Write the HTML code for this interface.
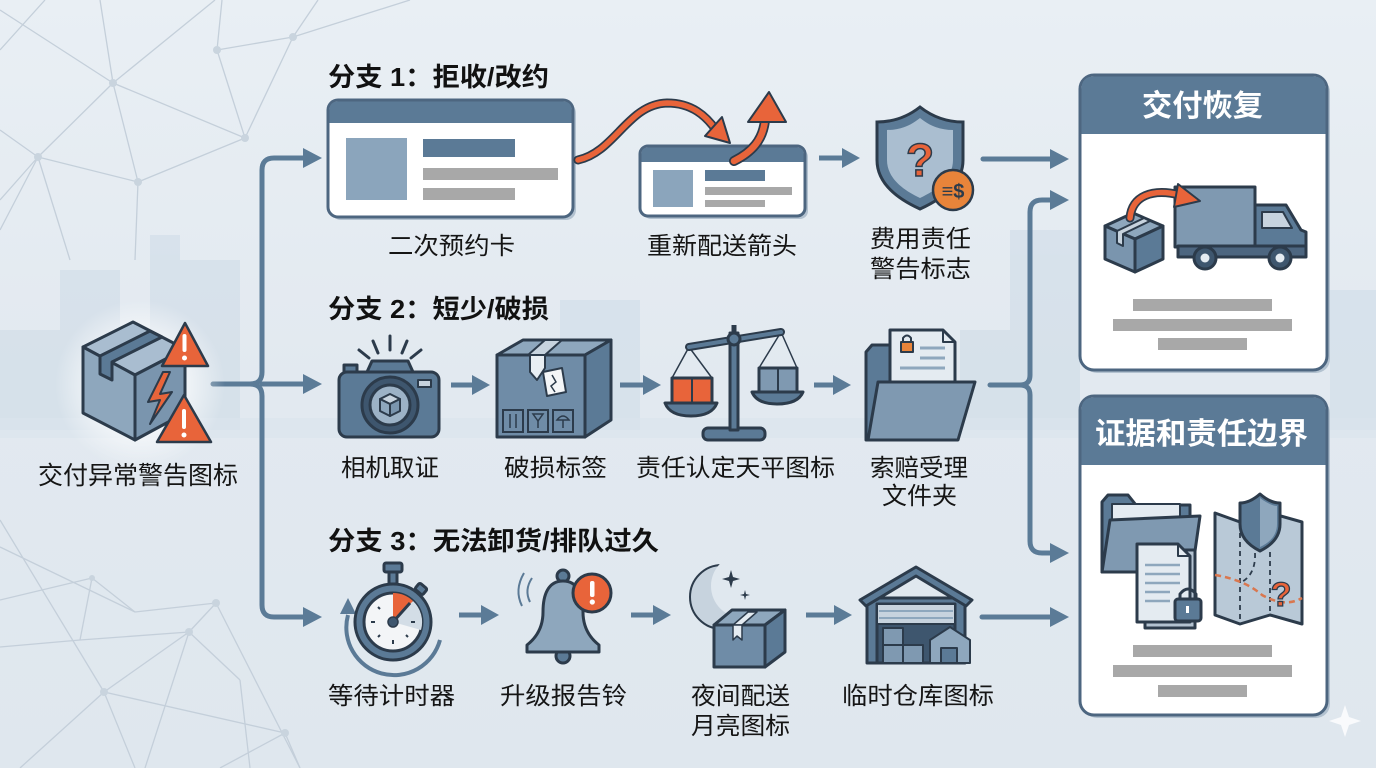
<!DOCTYPE html>
<html><head><meta charset="utf-8"><style>
html,body{margin:0;padding:0;background:#e4ebf1;}
svg{display:block;}
text{font-family:"Liberation Sans","Noto Sans CJK SC",sans-serif;}
</style></head><body>
<svg width="1376" height="768" viewBox="0 0 1376 768" xmlns="http://www.w3.org/2000/svg">
<defs>
<linearGradient id="bg" x1="0" y1="0" x2="0" y2="1">
<stop offset="0" stop-color="#e9eff4"/><stop offset="0.5" stop-color="#e2e9f0"/><stop offset="1" stop-color="#dfe7ee"/>
</linearGradient>
<radialGradient id="glow" cx="0.5" cy="0.5" r="0.5">
<stop offset="0" stop-color="#ffffff" stop-opacity="1"/><stop offset="0.5" stop-color="#ffffff" stop-opacity="0.7"/><stop offset="1" stop-color="#ffffff" stop-opacity="0"/>
</radialGradient>
<mask id="moonmask" maskUnits="userSpaceOnUse" x="600" y="500" width="200" height="200">
<rect x="600" y="500" width="200" height="200" fill="#fff"/>
<circle cx="743" cy="586" r="32" fill="#000"/>
</mask>
</defs>
<rect width="1376" height="768" fill="url(#bg)"/>
<!-- skyline -->
<g fill="#d3dfe9" opacity="0.75">
<rect x="0" y="330" width="60" height="100"/>
<rect x="60" y="270" width="60" height="160"/>
<rect x="150" y="235" width="30" height="195"/>
<rect x="180" y="260" width="60" height="170"/>
<rect x="560" y="300" width="80" height="130"/>
<rect x="960" y="330" width="60" height="100"/>
<rect x="1010" y="230" width="70" height="200"/>
<rect x="1330" y="290" width="46" height="140"/>
</g>
<rect x="0" y="418" width="1376" height="20" fill="#dbe4ec" opacity="0.6"/>
<!-- network lines -->
<g stroke="#c4cfda" stroke-width="1.3" fill="none">
<line x1="0" y1="10" x2="113" y2="83"/><line x1="113" y1="83" x2="245" y2="138"/>
<line x1="113" y1="83" x2="38" y2="157"/><line x1="113" y1="83" x2="138" y2="182"/>
<line x1="113" y1="83" x2="100" y2="0"/><line x1="113" y1="83" x2="215" y2="0"/>
<line x1="217" y1="50" x2="293" y2="37"/><line x1="217" y1="50" x2="245" y2="138"/>
<line x1="217" y1="50" x2="222" y2="0"/><line x1="293" y1="37" x2="245" y2="138"/>
<line x1="293" y1="37" x2="410" y2="0"/><line x1="293" y1="37" x2="318" y2="0"/>
<line x1="245" y1="138" x2="138" y2="182"/><line x1="38" y1="157" x2="138" y2="182"/>
<line x1="38" y1="157" x2="0" y2="130"/><line x1="38" y1="157" x2="0" y2="200"/>
<line x1="38" y1="157" x2="70" y2="260"/><line x1="138" y1="182" x2="135" y2="260"/>
<line x1="0" y1="50" x2="45" y2="0"/><line x1="0" y1="230" x2="38" y2="157"/>
<line x1="0" y1="547" x2="135" y2="612"/><line x1="135" y1="612" x2="216" y2="603"/>
<line x1="0" y1="647" x2="80" y2="640"/><line x1="80" y1="640" x2="92" y2="578"/>
<line x1="80" y1="640" x2="189" y2="632"/><line x1="92" y1="578" x2="135" y2="612"/>
<line x1="0" y1="520" x2="104" y2="692"/><line x1="104" y1="692" x2="189" y2="632"/>
<line x1="189" y1="632" x2="216" y2="603"/><line x1="189" y1="632" x2="145" y2="768"/>
<line x1="216" y1="603" x2="300" y2="768"/><line x1="104" y1="692" x2="285" y2="733"/>
<line x1="104" y1="692" x2="135" y2="768"/><line x1="104" y1="692" x2="20" y2="768"/>
<line x1="189" y1="632" x2="240" y2="680"/><line x1="240" y1="680" x2="250" y2="768"/>
<line x1="285" y1="733" x2="220" y2="768"/><line x1="285" y1="733" x2="300" y2="768"/>
<line x1="0" y1="600" x2="92" y2="578"/>
</g>
<g fill="#c9d4de">
<circle cx="113" cy="83" r="4"/><circle cx="217" cy="50" r="4"/><circle cx="293" cy="37" r="4"/>
<circle cx="245" cy="138" r="4"/><circle cx="138" cy="182" r="4"/><circle cx="38" cy="157" r="4"/>
<circle cx="92" cy="578" r="3"/><circle cx="216" cy="603" r="4"/><circle cx="189" cy="632" r="4"/>
<circle cx="104" cy="692" r="4"/><circle cx="285" cy="733" r="4"/>
</g>

<!-- ===== left bracket connectors ===== -->
<g stroke="#5b7b97" stroke-width="5" fill="none" stroke-linecap="round">
<path d="M213,384 L250,384 Q262,384 262,372 L262,170 Q262,158 274,158 L306,158"/>
<path d="M250,384 Q262,384 262,396 L262,605 Q262,617 274,617 L306,617"/>
<path d="M262,384 L306,384"/>
</g>
<g fill="#5b7b97">
<polygon points="322,158 303,148 303,168"/>
<polygon points="322,384 303,374 303,394"/>
<polygon points="322,617 303,607 303,627"/>
</g>

<!-- ===== left warning icon ===== -->
<circle cx="140" cy="385" r="85" fill="url(#glow)"/>
<g stroke="#2c3b4b" stroke-width="3" stroke-linejoin="round">
<polygon points="83,347 133,322 185,349 135,375" fill="#a9bdd0"/>
<polygon points="83,347 135,375 135,440 83,413" fill="#8ea7bd"/>
<polygon points="135,375 185,349 185,413 135,440" fill="#7a95ae"/>
<polygon points="100,356 150,331 162,337 112,362 112,380 100,374" fill="#5b7a96"/>
<polygon points="163,372 148,402 160,400 150,424 172,392 160,394 170,372" fill="#e8643a" stroke-width="2"/>
<polygon points="185,323 208,366 162,366" fill="#e8643a" stroke-width="2.5"/>
<polygon points="184,395 211,442 157,442" fill="#e8643a" stroke-width="2.5"/>
</g>
<g fill="#ffffff"><rect x="182.5" y="334" width="4" height="18" rx="2"/><circle cx="184.5" cy="358" r="2.5"/>
<rect x="182" y="409" width="4" height="20" rx="2"/><circle cx="184" cy="435" r="2.5"/></g>
<text x="38" y="484" font-size="25" fill="#151515" textLength="200" lengthAdjust="spacingAndGlyphs">交付异常警告图标</text>

<!-- ===== Titles ===== -->
<text x="328" y="86" font-size="26" font-weight="bold" fill="#111" textLength="221" lengthAdjust="spacingAndGlyphs">分支 1：拒收/改约</text>
<text x="328" y="318" font-size="26" font-weight="bold" fill="#111" textLength="221" lengthAdjust="spacingAndGlyphs">分支 2：短少/破损</text>
<text x="328" y="550" font-size="26" font-weight="bold" fill="#111" textLength="331" lengthAdjust="spacingAndGlyphs">分支 3：无法卸货/排队过久</text>

<!-- ===== Row 1 ===== -->
<rect x="331" y="103" width="245" height="117" rx="10" fill="#b3c2d0"/>
<rect x="328" y="100" width="245" height="117" rx="10" fill="#ffffff" stroke="#4d6680" stroke-width="3"/>
<path d="M329.5,123 L329.5,110 Q329.5,101.5 338,101.5 L563,101.5 Q571.5,101.5 571.5,110 L571.5,123 Z" fill="#5b7a96"/>
<rect x="346" y="138" width="61" height="62" fill="#8ba5bc"/>
<rect x="423" y="139" width="92" height="18" fill="#5b7a96"/>
<rect x="423" y="168" width="135" height="12" fill="#a8a8a8"/>
<rect x="423" y="188" width="92" height="12" fill="#a8a8a8"/>
<text x="388" y="254" font-size="24" fill="#151515" textLength="127" lengthAdjust="spacingAndGlyphs">二次预约卡</text>
<rect x="643" y="149" width="165" height="70" rx="8" fill="#b3c2d0"/>
<rect x="640" y="146" width="165" height="70" rx="8" fill="#ffffff" stroke="#4d6680" stroke-width="3"/>
<path d="M641.5,162 L641.5,154 Q641.5,147.5 648,147.5 L797,147.5 Q803.5,147.5 803.5,154 L803.5,162 Z" fill="#5b7a96"/>
<rect x="653" y="170" width="40" height="37" fill="#8ba5bc"/>
<rect x="705" y="170" width="60" height="11" fill="#5b7a96"/>
<rect x="705" y="187" width="87" height="8" fill="#a8a8a8"/>
<rect x="705" y="200" width="60" height="7" fill="#a8a8a8"/>
<text x="647" y="254" font-size="24" fill="#151515" textLength="150" lengthAdjust="spacingAndGlyphs">重新配送箭头</text>
<path d="M578,160 C615,152 628,104 667,103 C692,103 706,116 716,130" fill="none" stroke="#2c3b4b" stroke-width="9" stroke-linecap="round"/>
<path d="M578,160 C615,152 628,104 667,103 C692,103 706,116 716,130" fill="none" stroke="#e8643a" stroke-width="5.5" stroke-linecap="round"/>
<polygon points="730,143 705,136 722,117" fill="#e8643a" stroke="#2c3b4b" stroke-width="2" stroke-linejoin="round"/>
<path d="M734,161 C752,152 763,140 765,120" fill="none" stroke="#2c3b4b" stroke-width="10" stroke-linecap="round"/>
<path d="M734,161 C752,152 763,140 765,120" fill="none" stroke="#e8643a" stroke-width="6.5" stroke-linecap="round"/>
<polygon points="769,92 786,122 748,122" fill="#e8643a" stroke="#2c3b4b" stroke-width="2" stroke-linejoin="round"/>
<g stroke="#5b7b97" stroke-width="5"><line x1="819" y1="158" x2="845" y2="158"/></g>
<polygon points="860,158 842,148 842,168" fill="#5b7b97"/>
<path d="M920,107 C906,118 892,122 877,122 L877,160 C877,184 898,199 920,209 C942,199 963,184 963,160 L963,122 C948,122 934,118 920,107 Z" fill="#5b7a96" stroke="#2c3b4b" stroke-width="3"/>
<path d="M920,118 C909,127 898,130 887,130 L887,160 C887,178 903,190 920,198 C937,190 953,178 953,160 L953,130 C942,130 931,127 920,118 Z" fill="#aabed0"/>
<text x="920" y="176" font-size="46" font-weight="bold" fill="#e8643a" stroke="#2c3b4b" stroke-width="1.5" text-anchor="middle">?</text>
<circle cx="953" cy="190" r="20" fill="#e8843a" stroke="#2c3b4b" stroke-width="2.5"/>
<text x="953" y="198" font-size="20" font-weight="bold" fill="#2c3b4b" text-anchor="middle">≡$</text>
<text x="870" y="247" font-size="24" fill="#151515" textLength="101" lengthAdjust="spacingAndGlyphs">费用责任</text>
<text x="870" y="277" font-size="24" fill="#151515" textLength="101" lengthAdjust="spacingAndGlyphs">警告标志</text>

<!-- ===== Row 2 ===== -->
<g stroke="#2c3b4b" stroke-width="3" stroke-linecap="round">
<line x1="390" y1="336" x2="390" y2="350"/><line x1="373" y1="341" x2="378" y2="353"/>
<line x1="407" y1="341" x2="402" y2="353"/><line x1="359" y1="350" x2="369" y2="358"/>
<line x1="421" y1="350" x2="411" y2="358"/>
</g>
<g stroke="#2c3b4b" stroke-width="3" stroke-linejoin="round">
<path d="M367,372 L372,361 L408,361 L413,372 Z" fill="#5b7a96"/>
<rect x="344" y="365" width="13" height="8" fill="#5b7a96"/>
<rect x="339" y="372" width="100" height="65" rx="8" fill="#5b7a96"/>
<circle cx="390" cy="405" r="28" fill="#3e566e"/>
<circle cx="390" cy="405" r="20" fill="#9cb2c6"/>
<rect x="418" y="380" width="13" height="7" fill="#c7d3de" stroke-width="2"/>
</g>
<g stroke="#2c3b4b" stroke-width="2" stroke-linejoin="round" fill="#c7d3de">
<polygon points="380,399 390,394 400,399 390,404"/>
<polygon points="380,399 390,404 390,416 380,411" fill="#8ea7bd"/>
<polygon points="390,404 400,399 400,411 390,416" fill="#7a95ae"/>
</g>
<g stroke="#5b7b97" stroke-width="5"><line x1="451" y1="385" x2="475" y2="385"/></g>
<polygon points="490,385 472,375 472,395" fill="#5b7b97"/>
<g stroke="#2c3b4b" stroke-width="3" stroke-linejoin="round">
<polygon points="497,355 523,340 611,340 585,355" fill="#8ea7bd"/>
<polygon points="497,355 585,355 585,437 497,437" fill="#6f8ca7"/>
<polygon points="585,355 611,340 611,420 585,437" fill="#5b7a96"/>
<polygon points="528,355 545,340 562,340 545,355" fill="#c7d3de" stroke-width="2"/>
<polygon points="530,355 545,355 545,368 537,380 530,372" fill="#e8eef3" stroke-width="2"/>
<polygon points="543,372 562,368 566,392 547,396" fill="#f4f6f8" stroke-width="2"/>
</g>
<path d="M552,375 L556,382 L551,386 L555,392" stroke="#2c3b4b" stroke-width="1.5" fill="none"/>
<g stroke="#2c3b4b" stroke-width="2" fill="#6f8ca7">
<rect x="503" y="410" width="20" height="22"/><rect x="528" y="410" width="20" height="22"/><rect x="553" y="410" width="20" height="22"/>
</g>
<g stroke="#2c3b4b" stroke-width="1.5"><line x1="510" y1="414" x2="510" y2="428"/><line x1="516" y1="414" x2="516" y2="428"/>
<line x1="538" y1="420" x2="538" y2="428"/><path d="M533,414 L543,414 L538,421 Z" fill="none"/><path d="M557,420 Q563,412 569,420 Z M563,420 L563,428" fill="none"/></g>
<g stroke="#5b7b97" stroke-width="5"><line x1="620" y1="385" x2="645" y2="385"/></g>
<polygon points="661,385 643,375 643,395" fill="#5b7b97"/>
<g stroke="#2c3b4b" stroke-width="1.5" fill="none">
<path d="M689,347 L672,378 M689,347 L712,378"/>
<path d="M781,332 L759,368 M781,332 L797,368"/>
</g>
<g stroke="#2c3b4b" stroke-width="3" stroke-linejoin="round">
<rect x="703" y="428" width="62" height="12" rx="5" fill="#5b7a96"/>
<rect x="730" y="333" width="8" height="97" fill="#5b7a96"/>
<line x1="689" y1="347" x2="781" y2="332" stroke-width="8" stroke="#2c3b4b" stroke-linecap="round"/>
<line x1="689" y1="347" x2="781" y2="332" stroke-width="4" stroke="#5b7a96" stroke-linecap="round"/>
<circle cx="734" cy="339" r="6" fill="#5b7a96"/>
<line x1="734" y1="333" x2="734" y2="325" stroke-width="5"/>
<rect x="672" y="378" width="40" height="25" fill="#e8643a"/>
<path d="M665,403 L717,403 Q712,416 691,416 Q670,416 665,403 Z" fill="#5b7a96"/>
<rect x="759" y="368" width="38" height="24" fill="#7f99b1"/>
<path d="M752,392 L803,392 Q798,404 777,404 Q757,404 752,392 Z" fill="#5b7a96"/>
</g>
<line x1="692" y1="378" x2="692" y2="403" stroke="#2c3b4b" stroke-width="2"/>
<line x1="778" y1="368" x2="778" y2="392" stroke="#2c3b4b" stroke-width="2"/>
<g stroke="#5b7b97" stroke-width="5"><line x1="814" y1="385" x2="836" y2="385"/></g>
<polygon points="851,385 833,375 833,395" fill="#5b7b97"/>
<g stroke="#2c3b4b" stroke-width="3" stroke-linejoin="round">
<path d="M866,352 L866,440 L955,440 L955,352 L896,352 L890,345 L872,345 L866,352 Z" fill="#5b7a96"/>
<path d="M890,330 L943,330 L955,342 L955,395 L890,395 Z" fill="#e4ebf1"/>
<path d="M943,330 L943,342 L955,342" fill="none" stroke-width="2"/>
<rect x="901" y="342" width="12" height="10" fill="#e8843a" stroke-width="2"/>
<path d="M903,342 L903,338 Q907,333 911,338 L911,342" fill="none" stroke-width="2"/>
<path d="M878,382 L975,382 L958,440 L868,440 Z" fill="#7f99b1"/>
</g>
<g stroke="#8ea7bd" stroke-width="3"><line x1="920" y1="348" x2="945" y2="348"/><line x1="920" y1="358" x2="945" y2="358"/><line x1="900" y1="368" x2="945" y2="368"/></g>
<text x="870" y="476" font-size="24" fill="#151515" textLength="98" lengthAdjust="spacingAndGlyphs">索赔受理</text>
<text x="882" y="504" font-size="24" fill="#151515" textLength="75" lengthAdjust="spacingAndGlyphs">文件夹</text>
<text x="341" y="476" font-size="24" fill="#151515" textLength="98" lengthAdjust="spacingAndGlyphs">相机取证</text>
<text x="504" y="476" font-size="24" fill="#151515" textLength="103" lengthAdjust="spacingAndGlyphs">破损标签</text>
<text x="636" y="476" font-size="24" fill="#151515" textLength="199" lengthAdjust="spacingAndGlyphs">责任认定天平图标</text>

<!-- ===== Row 3 ===== -->
<path d="M348,615 A47,47 0 0 0 440,640" fill="none" stroke="#5b7a96" stroke-width="4"/>
<polygon points="348,598 340,614 356,614" fill="#5b7a96"/>
<g stroke="#2c3b4b" stroke-width="3" stroke-linejoin="round">
<rect x="384" y="563" width="18" height="9" rx="2" fill="#5b7a96"/>
<rect x="389" y="572" width="8" height="12" fill="#5b7a96"/>
<rect x="416" y="585" width="10" height="8" rx="2" fill="#5b7a96" transform="rotate(40 421 589)"/>
<circle cx="393" cy="622" r="38" fill="#5b7a96"/>
<circle cx="393" cy="622" r="29" fill="#f3f5f7"/>
</g>
<path d="M393,622 L413,601 A29,29 0 0 1 421,630 Z" fill="#d3dde6"/>
<path d="M393,622 L393,593 A29,29 0 0 1 413,601 Z" fill="#e8643a"/>
<line x1="393" y1="622" x2="410" y2="603" stroke="#2c3b4b" stroke-width="3"/>
<circle cx="393" cy="622" r="5" fill="#3e566e" stroke="#2c3b4b" stroke-width="1.5"/>
<g stroke="#2c3b4b" stroke-width="2"><line x1="371" y1="622" x2="375" y2="622"/><line x1="393" y1="644" x2="393" y2="640"/><line x1="411" y1="622" x2="415" y2="622"/><line x1="378" y1="607" x2="380" y2="609"/><line x1="378" y1="637" x2="380" y2="635"/><line x1="408" y1="637" x2="406" y2="635"/></g>
<g stroke="#5b7b97" stroke-width="5"><line x1="459" y1="615" x2="483" y2="615"/></g>
<polygon points="499,615 481,605 481,625" fill="#5b7b97"/>
<path d="M532,578 Q524,590 530,602 M524,573 Q514,590 522,606" fill="none" stroke="#5b7a96" stroke-width="2"/>
<g stroke="#2c3b4b" stroke-width="3" stroke-linejoin="round">
<circle cx="563" cy="656" r="7" fill="#5b7a96"/>
<circle cx="563" cy="576" r="6" fill="#5b7a96"/>
<path d="M563,581 C548,581 543,595 543,612 C543,628 536,638 527,645 L527,652 L599,652 L599,645 C590,638 583,628 583,612 C583,595 578,581 563,581 Z" fill="#8ea7bd"/>
<circle cx="592" cy="593" r="19" fill="#e8643a"/>
</g>
<rect x="590" y="581" width="4.5" height="16" rx="2" fill="#fff"/><circle cx="592.3" cy="602" r="2.6" fill="#fff"/>
<g stroke="#5b7b97" stroke-width="5"><line x1="631" y1="615" x2="655" y2="615"/></g>
<polygon points="671,615 653,605 653,625" fill="#5b7b97"/>
<!-- moon -->
<circle cx="722" cy="597" r="32" fill="#c7d3de" stroke="#2c3b4b" stroke-width="2" mask="url(#moonmask)"/>
<circle cx="743" cy="586" r="32" fill="none" stroke="#2c3b4b" stroke-width="2" mask="url(#moonclip)" opacity="0"/>
<path d="M715,566 A32,32 0 0 0 739,624" fill="none" stroke="none"/>
<path d="M731,570 L733,577 L740,579 L733,581 L731,588 L729,581 L722,579 L729,577 Z" fill="#2c3b4b"/>
<path d="M745,590 L746,594 L750,595 L746,596 L745,600 L744,596 L740,595 L744,594 Z" fill="#2c3b4b"/>
<g stroke="#2c3b4b" stroke-width="3" stroke-linejoin="round">
<polygon points="714,625 732,610 785,610 765,625" fill="#8ea7bd"/>
<polygon points="714,625 765,625 765,667 714,667" fill="#6f8ca7"/>
<polygon points="765,625 785,610 785,652 765,667" fill="#5b7a96"/>
<polygon points="733,625 748,612 757,612 742,625" fill="#e4ebf1" stroke-width="1.5"/>
<polygon points="733,625 742,625 742,640 737,636 733,640" fill="#e4ebf1" stroke-width="1.5"/>
</g>
<g stroke="#5b7b97" stroke-width="5"><line x1="806" y1="615" x2="836" y2="615"/></g>
<polygon points="852,615 834,605 834,625" fill="#5b7b97"/>
<g stroke="#2c3b4b" stroke-width="3" stroke-linejoin="round">
<rect x="867" y="598" width="98" height="65" fill="#5b7a96"/>
<polygon points="860,600 916,567 972,600 966,606 916,576 866,606" fill="#5b7a96"/>
<rect x="877" y="604" width="78" height="59" fill="#3e566e"/>
<rect x="877" y="604" width="78" height="20" fill="#c7d3de" stroke-width="2"/>
<rect x="883" y="628" width="20" height="17" fill="#7f99b1" stroke-width="2"/>
<rect x="883" y="645" width="20" height="18" fill="#7f99b1" stroke-width="2"/>
<rect x="903" y="645" width="20" height="18" fill="#7f99b1" stroke-width="2"/>
<polygon points="930,663 930,640 950,627 970,640 970,663" fill="#8ea7bd" stroke-width="2"/>
<rect x="941" y="648" width="16" height="15" fill="#5b7a96" stroke-width="2"/>
</g>
<g stroke="#8ea7bd" stroke-width="2"><line x1="879" y1="611" x2="953" y2="611"/><line x1="879" y1="618" x2="953" y2="618"/></g>
<text x="328" y="704" font-size="24" fill="#151515" textLength="127" lengthAdjust="spacingAndGlyphs">等待计时器</text>
<text x="500" y="704" font-size="24" fill="#151515" textLength="127" lengthAdjust="spacingAndGlyphs">升级报告铃</text>
<text x="691" y="704" font-size="24" fill="#151515" textLength="99" lengthAdjust="spacingAndGlyphs">夜间配送</text>
<text x="691" y="734" font-size="24" fill="#151515" textLength="99" lengthAdjust="spacingAndGlyphs">月亮图标</text>
<text x="842" y="704" font-size="24" fill="#151515" textLength="152" lengthAdjust="spacingAndGlyphs">临时仓库图标</text>

<!-- ===== right connectors ===== -->
<g stroke="#5b7b97" stroke-width="5" fill="none" stroke-linecap="round">
<line x1="983" y1="159" x2="1052" y2="159"/>
<path d="M990,385 L1020,385 Q1030,385 1030,375 L1030,212 Q1030,200 1042,200 L1052,200"/>
<path d="M1020,385 Q1030,385 1030,395 L1030,541 Q1030,553 1042,553 L1052,553"/>
<line x1="982" y1="617" x2="1052" y2="617"/>
</g>
<g fill="#5b7b97">
<polygon points="1069,159 1050,149 1050,169"/>
<polygon points="1069,200 1050,190 1050,210"/>
<polygon points="1069,553 1050,543 1050,563"/>
<polygon points="1069,617 1050,607 1050,627"/>
</g>

<!-- ===== Panel 1 ===== -->
<rect x="1083" y="78" width="247" height="295" rx="14" fill="#b3c2d0"/>
<rect x="1080" y="75" width="247" height="295" rx="14" fill="#ffffff" stroke="#4d6680" stroke-width="3"/>
<path d="M1081.5,134 L1081.5,89 Q1081.5,76.5 1094,76.5 L1313,76.5 Q1325.5,76.5 1325.5,89 L1325.5,134 Z" fill="#5b7a96"/>
<text x="1142" y="116" font-size="30" font-weight="bold" fill="#ffffff" textLength="121" lengthAdjust="spacingAndGlyphs">交付恢复</text>
<g stroke="#2c3b4b" stroke-width="3" stroke-linejoin="round">
<polygon points="1105,226 1133,213 1163,226 1135,239" fill="#8ea7bd"/>
<polygon points="1105,226 1135,239 1135,272 1105,259" fill="#7a95ae"/>
<polygon points="1135,239 1163,226 1163,259 1135,272" fill="#5b7a96"/>
<polygon points="1117,231 1144,218 1150,221 1123,234 1123,246 1117,243" fill="#c7d3de" stroke-width="2"/>
<rect x="1175" y="187" width="80" height="60" fill="#7f99b1"/>
<path d="M1255,205 L1286,205 L1301,230 L1306,232 L1306,256 L1255,256 Z" fill="#5b7a96"/>
<path d="M1262,212 L1283,212 L1292,228 L1262,228 Z" fill="#c7d3de" stroke-width="2"/>
<rect x="1178" y="246" width="128" height="11" fill="#4d6680"/>
<circle cx="1205" cy="258" r="11" fill="#3e566e"/>
<circle cx="1280" cy="258" r="11" fill="#3e566e"/>
</g>
<circle cx="1205" cy="258" r="4.5" fill="#e4ebf1"/><circle cx="1280" cy="258" r="4.5" fill="#e4ebf1"/>
<path d="M1130,218 C1132,196 1152,188 1180,195" fill="none" stroke="#2c3b4b" stroke-width="9" stroke-linecap="round"/>
<path d="M1130,218 C1132,196 1152,188 1180,195" fill="none" stroke="#e8643a" stroke-width="5.5" stroke-linecap="round"/>
<polygon points="1200,201 1178,184 1174,207" fill="#e8643a" stroke="#2c3b4b" stroke-width="2" stroke-linejoin="round"/>
<g fill="#a8a8a8">
<rect x="1133" y="299" width="139" height="12"/>
<rect x="1113" y="319" width="179" height="12"/>
<rect x="1158" y="338" width="89" height="12"/>
</g>

<!-- ===== Panel 2 ===== -->
<rect x="1083" y="399" width="247" height="319" rx="14" fill="#b3c2d0"/>
<rect x="1080" y="396" width="247" height="319" rx="14" fill="#ffffff" stroke="#4d6680" stroke-width="3"/>
<path d="M1081.5,465 L1081.5,410 Q1081.5,397.5 1094,397.5 L1313,397.5 Q1325.5,397.5 1325.5,410 L1325.5,465 Z" fill="#5b7a96"/>
<text x="1095" y="444" font-size="30" font-weight="bold" fill="#ffffff" textLength="213" lengthAdjust="spacingAndGlyphs">证据和责任边界</text>
<g stroke="#2c3b4b" stroke-width="3" stroke-linejoin="round">
<path d="M1102,502 L1102,572 L1190,572 L1190,505 L1136,505 L1128,495 L1108,495 Z" fill="#5b7a96"/>
<rect x="1112" y="504" width="68" height="20" fill="#e4ebf1" stroke-width="2"/>
<path d="M1110,520 L1200,516 L1192,572 L1102,572 Z" fill="#7f99b1"/>
<rect x="1145" y="550" width="50" height="78" fill="#b3c2d0"/>
<path d="M1137,544 L1178,544 L1190,556 L1190,622 L1137,622 Z" fill="#e4ebf1"/>
<path d="M1178,544 L1178,556 L1190,556" fill="none" stroke-width="2"/>
<path d="M1180,600 L1180,594 Q1188,584 1196,594 L1196,600" fill="none" stroke-width="3"/>
<rect x="1175" y="599" width="26" height="22" rx="3" fill="#5b7a96"/>
<polygon points="1215,513 1240,522 1270,513 1302,522 1302,624 1270,615 1240,624 1215,615" fill="#b9c9d7"/>
<path d="M1260,494 C1252,501 1246,503 1240,503 L1240,524 C1240,538 1250,546 1260,551 C1270,546 1280,538 1280,524 L1280,503 C1274,503 1268,501 1260,494 Z" fill="#5b7a96"/>
</g>
<path d="M1260,498 C1268,504 1274,506 1277,506 L1277,524 C1277,536 1269,543 1260,547 Z" fill="#8ea7bd"/>
<g stroke="#8ea7bd" stroke-width="2.5"><line x1="1145" y1="565" x2="1180" y2="565"/><line x1="1145" y1="574" x2="1180" y2="574"/><line x1="1145" y1="583" x2="1180" y2="583"/><line x1="1145" y1="592" x2="1170" y2="592"/><line x1="1145" y1="601" x2="1170" y2="601"/></g>
<rect x="1186" y="606" width="3" height="7" fill="#fff"/>
<g stroke="#2c3b4b" stroke-width="1.8" stroke-dasharray="5,4" fill="none">
<line x1="1240" y1="524" x2="1240" y2="622"/><line x1="1270" y1="552" x2="1270" y2="613"/>
<path d="M1255,553 Q1256,575 1240,583"/>
</g>
<path d="M1215,575 Q1245,580 1262,595 Q1285,608 1302,598" fill="none" stroke="#d9774f" stroke-width="2.5" stroke-dasharray="6,4"/>
<text x="1281" y="606" font-size="34" font-weight="bold" fill="#e8643a" stroke="#2c3b4b" stroke-width="1.3" text-anchor="middle">?</text>
<g fill="#a8a8a8">
<rect x="1133" y="645" width="139" height="12"/>
<rect x="1113" y="665" width="179" height="12"/>
<rect x="1158" y="685" width="89" height="12"/>
</g>
<path d="M1345,705 L1349,717 L1361,721 L1349,725 L1345,737 L1341,725 L1329,721 L1341,717 Z" fill="#ffffff" opacity="0.8"/>
</svg>
</body></html>
